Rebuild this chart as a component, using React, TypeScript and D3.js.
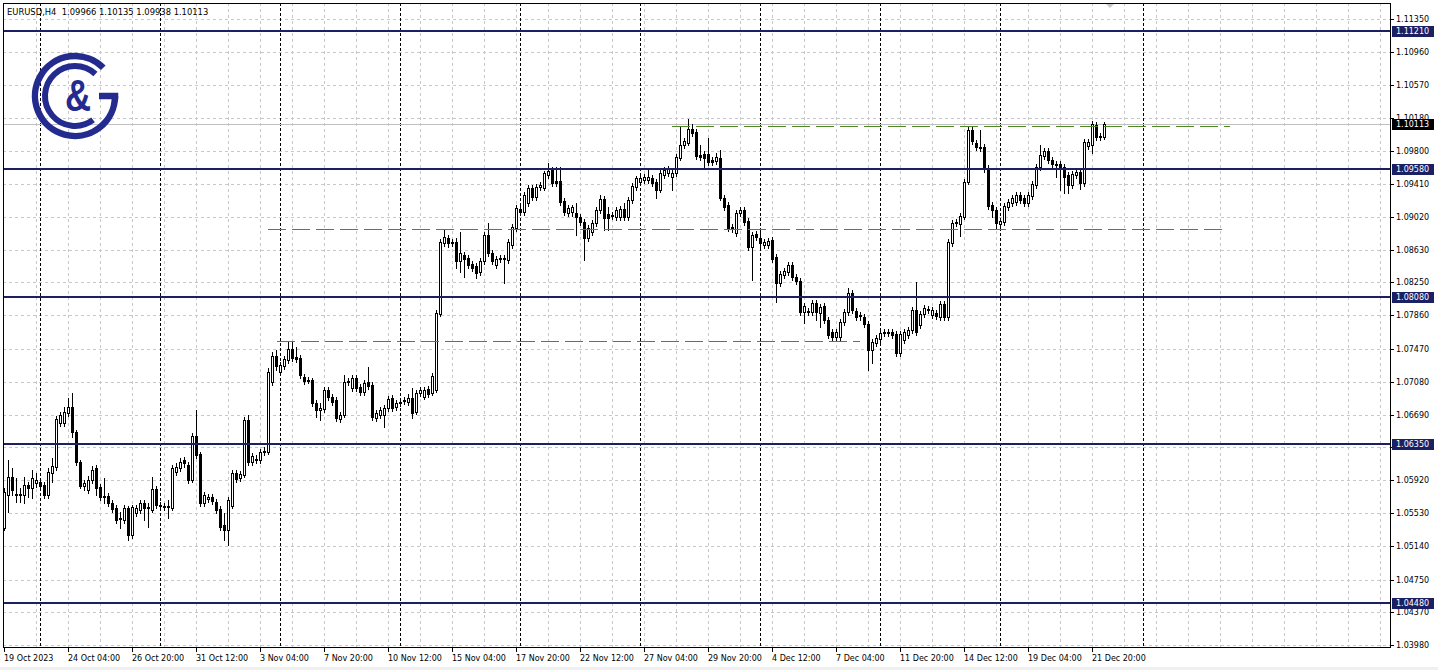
import React from "react";
import * as d3 from "d3";

const header = "EURUSD,H4  1.09966 1.10135 1.09938 1.10113";

const timeLabels = [
  "19 Oct 2023", "24 Oct 04:00", "26 Oct 20:00", "31 Oct 12:00", "3 Nov 04:00",
  "7 Nov 20:00", "10 Nov 12:00", "15 Nov 04:00", "17 Nov 20:00", "22 Nov 12:00",
  "27 Nov 04:00", "29 Nov 20:00", "4 Dec 12:00", "7 Dec 04:00", "11 Dec 20:00",
  "14 Dec 12:00", "19 Dec 04:00", "21 Dec 20:00",
];
const barsPerTimeLabel = 16;
const barsPerGridLine = 8;

const priceTicks = [
  1.1135, 1.1096, 1.1057, 1.1018, 1.098, 1.0941, 1.0902, 1.0863, 1.0825, 1.0786,
  1.0747, 1.0708, 1.0669, 1.0631, 1.0592, 1.0553, 1.0514, 1.0475, 1.0437, 1.0398,
];

// horizontal support / resistance levels
const levels = [1.1121, 1.0958, 1.0808, 1.0635, 1.0448];
// dashed trend lines: [from bar, to bar, price]
const trendLines: [number, number, number][] = [
  [167, 306.5, 1.1009],
  [66, 304.5, 1.08878],
  [68.25, 214, 1.07559],
];
// period separators (bar index)
const separators = [9, 39, 69, 99, 129, 159, 189, 219, 249, 284.75];
const bidPrice = 1.10113;

// H4 candles: [open, high, low, close]
const ohlc: [number, number, number, number][] = [
  [1.05358, 1.05829, 1.05334, 1.05781], [1.05746, 1.06158, 1.05545, 1.05958], [1.05958, 1.06064, 1.05746, 1.05805],
  [1.05758, 1.05946, 1.05663, 1.05746], [1.05746, 1.05829, 1.05663, 1.05758], [1.05746, 1.05958, 1.05652, 1.05864],
  [1.05864, 1.05899, 1.05723, 1.05829], [1.05829, 1.0604, 1.05711, 1.05946], [1.05888, 1.06005, 1.05841, 1.05923],
  [1.05899, 1.05946, 1.05805, 1.05852], [1.05864, 1.05899, 1.05711, 1.05746], [1.05746, 1.06064, 1.05711, 1.06016],
  [1.06005, 1.06182, 1.05899, 1.06087], [1.06076, 1.06676, 1.0604, 1.06641], [1.06594, 1.06723, 1.06558, 1.06688],
  [1.06594, 1.06782, 1.06558, 1.06723], [1.06712, 1.06888, 1.06676, 1.06782], [1.06782, 1.06947, 1.06429, 1.06487],
  [1.06487, 1.06511, 1.06099, 1.06134], [1.06134, 1.06158, 1.05829, 1.05852], [1.05852, 1.05923, 1.05805, 1.05888],
  [1.05805, 1.05969, 1.0577, 1.05923], [1.05923, 1.06087, 1.05888, 1.0604], [1.06064, 1.06099, 1.05746, 1.05829],
  [1.05841, 1.05876, 1.05687, 1.05723], [1.05723, 1.05946, 1.05652, 1.05734], [1.05734, 1.0577, 1.05616, 1.05652],
  [1.05652, 1.05687, 1.05545, 1.05581], [1.05593, 1.05628, 1.05417, 1.05452], [1.05463, 1.05545, 1.05358, 1.05475],
  [1.05452, 1.05628, 1.05417, 1.05593], [1.05593, 1.05616, 1.05216, 1.05275], [1.05275, 1.05628, 1.0524, 1.05605],
  [1.05534, 1.05628, 1.05498, 1.05593], [1.05569, 1.05687, 1.05534, 1.05652], [1.05652, 1.05687, 1.05452, 1.05593],
  [1.05593, 1.05652, 1.0537, 1.05605], [1.05569, 1.05958, 1.05545, 1.05817], [1.05817, 1.05852, 1.05593, 1.05628],
  [1.05616, 1.05663, 1.05569, 1.05628], [1.05605, 1.05652, 1.05569, 1.05616], [1.05616, 1.05687, 1.05475, 1.05605],
  [1.05593, 1.06099, 1.05569, 1.06064], [1.06016, 1.06123, 1.05981, 1.06076], [1.06064, 1.06182, 1.06028, 1.06134],
  [1.06158, 1.06194, 1.06076, 1.06123], [1.06099, 1.06134, 1.05888, 1.05923], [1.05923, 1.06476, 1.05899, 1.0644],
  [1.0644, 1.06747, 1.06182, 1.06217], [1.06229, 1.06252, 1.05616, 1.05652], [1.05652, 1.05781, 1.05616, 1.05746],
  [1.05699, 1.05758, 1.05663, 1.05723], [1.05723, 1.05758, 1.0564, 1.05675], [1.05663, 1.05699, 1.05534, 1.05569],
  [1.05581, 1.05616, 1.05334, 1.0537], [1.05393, 1.05534, 1.05216, 1.05334], [1.05334, 1.05723, 1.05157, 1.05687],
  [1.05616, 1.0604, 1.05593, 1.06005], [1.06005, 1.0604, 1.05899, 1.05934], [1.05946, 1.06028, 1.05911, 1.05993],
  [1.05981, 1.06665, 1.05958, 1.06629], [1.06629, 1.06688, 1.06099, 1.06134], [1.06134, 1.06241, 1.06099, 1.06205],
  [1.06158, 1.06217, 1.06123, 1.0617], [1.06158, 1.06288, 1.06123, 1.06252], [1.06252, 1.06312, 1.06217, 1.06264],
  [1.06252, 1.07241, 1.06229, 1.07194], [1.07076, 1.07429, 1.07041, 1.07382], [1.07382, 1.07453, 1.07218, 1.07264],
  [1.07194, 1.07311, 1.07159, 1.07276], [1.07264, 1.07382, 1.07229, 1.07347], [1.07335, 1.07547, 1.073, 1.07465],
  [1.07465, 1.07547, 1.07323, 1.07359], [1.07371, 1.07489, 1.07311, 1.07347], [1.07359, 1.07394, 1.07124, 1.07159],
  [1.07136, 1.07171, 1.07053, 1.07088], [1.071, 1.07136, 1.07065, 1.07088], [1.071, 1.07124, 1.06793, 1.06829],
  [1.06829, 1.06864, 1.06665, 1.06747], [1.06747, 1.06829, 1.06629, 1.0677], [1.06758, 1.07018, 1.06723, 1.06982],
  [1.06982, 1.07018, 1.06864, 1.069], [1.069, 1.06935, 1.06805, 1.0684], [1.06864, 1.069, 1.06617, 1.06653],
  [1.06641, 1.06723, 1.06605, 1.06688], [1.06688, 1.07159, 1.06665, 1.07076], [1.07076, 1.07124, 1.07041, 1.07088],
  [1.07006, 1.07159, 1.0697, 1.07124], [1.07124, 1.07159, 1.0697, 1.07006], [1.07018, 1.07053, 1.06923, 1.06958],
  [1.06958, 1.071, 1.06923, 1.07065], [1.07076, 1.07253, 1.06994, 1.07029], [1.07041, 1.07076, 1.06629, 1.06665],
  [1.06653, 1.06747, 1.06617, 1.06712], [1.06688, 1.06782, 1.06653, 1.06747], [1.06688, 1.06805, 1.06547, 1.0677],
  [1.0677, 1.06911, 1.06735, 1.06876], [1.06888, 1.06923, 1.06735, 1.0677], [1.06782, 1.06864, 1.06747, 1.06829],
  [1.06829, 1.06876, 1.06793, 1.0684], [1.06852, 1.069, 1.06817, 1.06864], [1.0684, 1.06935, 1.06805, 1.06888],
  [1.06888, 1.07006, 1.06653, 1.06712], [1.06723, 1.06982, 1.067, 1.06947], [1.06947, 1.07018, 1.06911, 1.06982],
  [1.069, 1.07018, 1.06876, 1.06982], [1.06994, 1.07029, 1.069, 1.06935], [1.06947, 1.07183, 1.06923, 1.07147],
  [1.06982, 1.07924, 1.06958, 1.07889], [1.07877, 1.0876, 1.07853, 1.08724], [1.08713, 1.08866, 1.08677, 1.08784],
  [1.08772, 1.08807, 1.08666, 1.08713], [1.08713, 1.0876, 1.08677, 1.08724], [1.08724, 1.08772, 1.08419, 1.08501],
  [1.08501, 1.08842, 1.08371, 1.08595], [1.08571, 1.08606, 1.08313, 1.08524], [1.08536, 1.08571, 1.08419, 1.08454],
  [1.08466, 1.08501, 1.08383, 1.08419], [1.08442, 1.08478, 1.08301, 1.0836], [1.08371, 1.08536, 1.08336, 1.08501],
  [1.08501, 1.08842, 1.08466, 1.08807], [1.08807, 1.08949, 1.08559, 1.08595], [1.08595, 1.0863, 1.08466, 1.08501],
  [1.08454, 1.08559, 1.08419, 1.08524], [1.08524, 1.08571, 1.08489, 1.08536], [1.08536, 1.08571, 1.08242, 1.08524],
  [1.08513, 1.0876, 1.08478, 1.08724], [1.08689, 1.08937, 1.08654, 1.08901], [1.0889, 1.0916, 1.08854, 1.09125],
  [1.09113, 1.09148, 1.09042, 1.09077], [1.09077, 1.09313, 1.09042, 1.09278], [1.09184, 1.09395, 1.09148, 1.0936],
  [1.0936, 1.09395, 1.09219, 1.09255], [1.09255, 1.09407, 1.09219, 1.09372], [1.09372, 1.0943, 1.09337, 1.09395],
  [1.0936, 1.0956, 1.09337, 1.09537], [1.09513, 1.09655, 1.09478, 1.0956], [1.09572, 1.09607, 1.09383, 1.09419],
  [1.09442, 1.09607, 1.09383, 1.09419], [1.09442, 1.09607, 1.0916, 1.09195], [1.09207, 1.09243, 1.09042, 1.09077],
  [1.09066, 1.0916, 1.0903, 1.09125], [1.09077, 1.0916, 1.0903, 1.09137], [1.09066, 1.09184, 1.08807, 1.09019],
  [1.09019, 1.09054, 1.08925, 1.0896], [1.0896, 1.08996, 1.08513, 1.08772], [1.08772, 1.08925, 1.08736, 1.0889],
  [1.08842, 1.08984, 1.08807, 1.08949], [1.08949, 1.09137, 1.08913, 1.09101], [1.09101, 1.09278, 1.09066, 1.09231],
  [1.09231, 1.09266, 1.08866, 1.09007], [1.09054, 1.09137, 1.08866, 1.09007], [1.09042, 1.09077, 1.08996, 1.0903],
  [1.09019, 1.09137, 1.08984, 1.09101], [1.09019, 1.09148, 1.08984, 1.09113], [1.09113, 1.09184, 1.08984, 1.09019],
  [1.09019, 1.09255, 1.08984, 1.09219], [1.09219, 1.09419, 1.09184, 1.09383], [1.09372, 1.09501, 1.09337, 1.09478],
  [1.0943, 1.09513, 1.09395, 1.09478], [1.09454, 1.09525, 1.09419, 1.09489], [1.09454, 1.09572, 1.09419, 1.09489],
  [1.09478, 1.09513, 1.09383, 1.09419], [1.0943, 1.09466, 1.09243, 1.09337], [1.09337, 1.09572, 1.09313, 1.09537],
  [1.09513, 1.09607, 1.09478, 1.09572], [1.09537, 1.09619, 1.09501, 1.09584], [1.09489, 1.09572, 1.09337, 1.09537],
  [1.09537, 1.09761, 1.09501, 1.09726], [1.09714, 1.10079, 1.0969, 1.09867], [1.09867, 1.09949, 1.09831, 1.09914],
  [1.0989, 1.10173, 1.09867, 1.10055], [1.10055, 1.10114, 1.09972, 1.10008], [1.10019, 1.10055, 1.09702, 1.09737],
  [1.09749, 1.09867, 1.0969, 1.09726], [1.09761, 1.09796, 1.09596, 1.09714], [1.09761, 1.09949, 1.09631, 1.09666],
  [1.0969, 1.09726, 1.09631, 1.09666], [1.09678, 1.09773, 1.09643, 1.09726], [1.09714, 1.09808, 1.09219, 1.09243],
  [1.09243, 1.09278, 1.09101, 1.09137], [1.0916, 1.09195, 1.08854, 1.0889], [1.08901, 1.08937, 1.08842, 1.08878],
  [1.08831, 1.09101, 1.08795, 1.09066], [1.09066, 1.09137, 1.0903, 1.09101], [1.09101, 1.09137, 1.08925, 1.0896],
  [1.08972, 1.09007, 1.0863, 1.08666], [1.08666, 1.08842, 1.08277, 1.08807], [1.08819, 1.08854, 1.08748, 1.08784],
  [1.08772, 1.08866, 1.08666, 1.08713], [1.08689, 1.0876, 1.08654, 1.08724], [1.08689, 1.08772, 1.08654, 1.08736],
  [1.08748, 1.08784, 1.08489, 1.08524], [1.08548, 1.08583, 1.08018, 1.08242], [1.08242, 1.08383, 1.08206, 1.08348],
  [1.08336, 1.08419, 1.08301, 1.08383], [1.08371, 1.08489, 1.08336, 1.08454], [1.08454, 1.08489, 1.08277, 1.08313],
  [1.08313, 1.08348, 1.0823, 1.08265], [1.08265, 1.08301, 1.07865, 1.079], [1.079, 1.08007, 1.07771, 1.07971],
  [1.07912, 1.07947, 1.07865, 1.079], [1.079, 1.08042, 1.07865, 1.08007], [1.08007, 1.08042, 1.07806, 1.079],
  [1.07889, 1.07995, 1.07724, 1.07959], [1.07971, 1.08007, 1.07771, 1.07806], [1.07806, 1.07842, 1.07595, 1.0763],
  [1.07665, 1.077, 1.07571, 1.07607], [1.07607, 1.077, 1.07571, 1.07665], [1.07607, 1.07818, 1.07571, 1.07783],
  [1.07783, 1.07936, 1.07747, 1.079], [1.079, 1.08183, 1.07865, 1.08124], [1.08124, 1.08159, 1.07889, 1.07924],
  [1.07912, 1.07947, 1.07806, 1.07842], [1.07853, 1.079, 1.07806, 1.07865], [1.07842, 1.07877, 1.07724, 1.07759],
  [1.07759, 1.07794, 1.07218, 1.07453], [1.07453, 1.07583, 1.073, 1.07547], [1.07536, 1.0763, 1.075, 1.07595],
  [1.07583, 1.07689, 1.07547, 1.07653], [1.07653, 1.077, 1.07618, 1.07665], [1.07665, 1.077, 1.07618, 1.07653],
  [1.07665, 1.077, 1.07595, 1.0763], [1.07642, 1.07677, 1.07382, 1.07418], [1.07418, 1.07677, 1.07382, 1.07642],
  [1.07571, 1.077, 1.07536, 1.07665], [1.0763, 1.07724, 1.07595, 1.07689], [1.07689, 1.07959, 1.07653, 1.07924],
  [1.07924, 1.08253, 1.0763, 1.07665], [1.07747, 1.07912, 1.07712, 1.07877], [1.07877, 1.07983, 1.07842, 1.07947],
  [1.07924, 1.07971, 1.07889, 1.07936], [1.07865, 1.07959, 1.0783, 1.07924], [1.07889, 1.07924, 1.07818, 1.07853],
  [1.07842, 1.0803, 1.07806, 1.07995], [1.07995, 1.0803, 1.07806, 1.07842], [1.07842, 1.0876, 1.07806, 1.08724],
  [1.08713, 1.08984, 1.08677, 1.08949], [1.08949, 1.08996, 1.08913, 1.0896], [1.08937, 1.09066, 1.08795, 1.0903],
  [1.09019, 1.09466, 1.08996, 1.0943], [1.0943, 1.10079, 1.09407, 1.10043], [1.10043, 1.10079, 1.09878, 1.09914],
  [1.0989, 1.09925, 1.09808, 1.09843], [1.09843, 1.10043, 1.09796, 1.09831], [1.09843, 1.09878, 1.09548, 1.09584],
  [1.09596, 1.09631, 1.09113, 1.09148], [1.0916, 1.09195, 1.09019, 1.09101], [1.09101, 1.09137, 1.0889, 1.08949],
  [1.08937, 1.09007, 1.0889, 1.08972], [1.0896, 1.09184, 1.08925, 1.09148], [1.09137, 1.09231, 1.09101, 1.09195],
  [1.09184, 1.09278, 1.09148, 1.09243], [1.09195, 1.09313, 1.0916, 1.09278], [1.09278, 1.09313, 1.09184, 1.09219],
  [1.09243, 1.09278, 1.09148, 1.09184], [1.09184, 1.09313, 1.09148, 1.09278], [1.09266, 1.09442, 1.09231, 1.09407],
  [1.09395, 1.09643, 1.0936, 1.09607], [1.09607, 1.09867, 1.09572, 1.09749], [1.09737, 1.09831, 1.09702, 1.09796],
  [1.09796, 1.09831, 1.09655, 1.0969], [1.0969, 1.09726, 1.09607, 1.09643], [1.09643, 1.09678, 1.09489, 1.09631],
  [1.09643, 1.09678, 1.09337, 1.09607], [1.09607, 1.09643, 1.09301, 1.09489], [1.09513, 1.09548, 1.09301, 1.09395],
  [1.09395, 1.0956, 1.0936, 1.09525], [1.09513, 1.09584, 1.09478, 1.09548], [1.09548, 1.09584, 1.09348, 1.09419],
  [1.09419, 1.09937, 1.09383, 1.09902], [1.09855, 1.09937, 1.0982, 1.09902], [1.09867, 1.10149, 1.09773, 1.10114],
  [1.10102, 1.10138, 1.09925, 1.09961], [1.09961, 1.10008, 1.09925, 1.09972], [1.09966, 1.10135, 1.09938, 1.10113],
];

const FONT = "'DejaVu Sans', sans-serif";
const NAVY = "#1b2063";
const LOGO = "#242b8e";
const GREEN = "#4d8a22";
const GRID = "#c8c8c8";

export default function App() {
  const W = 1438;
  const H = 670;
  const left = 3;
  const right = 1390;
  const top = 3;
  const bottom = 647;

  const x = d3.scaleLinear().domain([0, 346.5]).range([4, 1390]);
  const y = d3.scaleLinear().domain([1.0398, 1.1135]).range([645, 19]);
  const px = (i: number) => Math.round(x(i));
  const py = (p: number) => Math.round(y(p));
  const fmt = d3.format(".5f");

  const gridBars = d3.range(barsPerGridLine, 346.5, barsPerGridLine).filter((b) => x(b) < right - 2);

  // logo geometry
  const lcx = 75;
  const lcy = 96;
  const rO = 40;
  const rI = 30;
  const pt = (r: number, deg: number) => [lcx + r * Math.cos((deg * Math.PI) / 180), lcy + r * Math.sin((deg * Math.PI) / 180)];
  const [oSx, oSy] = pt(rO, -45);
  const [oEx, oEy] = pt(rO, 0);
  const [iSx, iSy] = pt(rI, -47);
  const [iEx, iEy] = pt(rI, 53);

  return (
    <div style={{ position: "absolute", left: 0, top: 0, width: W, height: H, background: "#fff" }}>
      <svg width={W} height={H} style={{ display: "block" }}>
        <rect x={0} y={0} width={W} height={H} fill="#fff" />
        <rect x={0} y={667} width={W} height={3} fill="#f0f0f0" />

        {/* grid */}
        <g shapeRendering="crispEdges">
          {priceTicks.map((p) => (
            <line key={"hg" + p} x1={left} x2={right} y1={py(p) + 0.5} y2={py(p) + 0.5} stroke={GRID} strokeDasharray="3,3" />
          ))}
          {gridBars.map((b) => (
            <line key={"vg" + b} x1={px(b) + 0.5} x2={px(b) + 0.5} y1={top} y2={bottom} stroke={GRID} strokeDasharray="3,3" />
          ))}
          {separators.map((b) => (
            <line key={"sep" + b} x1={px(b) + 0.5} x2={px(b) + 0.5} y1={top} y2={bottom} stroke="#000" strokeDasharray="3,2" />
          ))}
          <line x1={left} x2={right} y1={py(bidPrice) + 0.5} y2={py(bidPrice) + 0.5} stroke="#c0c0c0" />
        </g>

        {/* candles */}
        <g shapeRendering="crispEdges">
          {ohlc.map(([o, h, l, c], i) => {
            const cx = px(i);
            const yo = py(o);
            const yc = py(c);
            const yh = py(h);
            const yl = py(l);
            const t = Math.min(yo, yc);
            const b = Math.max(yo, yc);
            const bull = c >= o;
            return (
              <g key={i}>
                <line x1={cx + 0.5} x2={cx + 0.5} y1={yh} y2={yl + 1} stroke="#000" />
                {bull && b - t >= 2 ? (
                  <rect x={cx - 0.5} y={t + 0.5} width={2} height={b - t} fill="#fff" stroke="#000" />
                ) : (
                  <rect x={cx - 1} y={t} width={3} height={b - t + 1} fill="#000" />
                )}
              </g>
            );
          })}
        </g>

        {/* levels */}
        <g shapeRendering="crispEdges">
          {levels.map((p) => (
            <line key={"lv" + p} x1={left} x2={right} y1={py(p)} y2={py(p)} stroke={NAVY} strokeWidth={2} />
          ))}
          {trendLines.map(([a, b, p], k) => (
            <line key={"tl" + k} x1={px(a)} x2={px(b)} y1={py(p) + 0.5} y2={py(p) + 0.5} stroke={GREEN} strokeDasharray="18,6" />
          ))}
        </g>

        {/* logo */}
        <g>
          <path d={`M${oSx},${oSy} A${rO},${rO} 0 1 0 ${oEx},${oEy}`} fill="none" stroke={LOGO} strokeWidth={6.5} />
          <rect x={99} y={lcy - 3.25} width={lcx + rO + 3.25 - 99} height={6.5} fill={LOGO} />
          <path d={`M${iSx},${iSy} A${rI},${rI} 0 1 0 ${iEx},${iEy}`} fill="none" stroke={LOGO} strokeWidth={6} />
          <text
            transform={`translate(78,111) scale(0.82,1)`}
            textAnchor="middle"
            fontFamily="'Liberation Sans', Arial, sans-serif"
            fontWeight="bold"
            fontSize={44}
            fill={LOGO}
          >
            &amp;
          </text>
        </g>

        {/* header */}
        <text x={7} y={15} fontFamily={FONT} fontSize={8.4} fill="#000" style={{ whiteSpace: "pre" }}>
          {header}
        </text>

        {/* chart shift marker */}
        <path d="M1105,3 L1115,3 L1110,8 Z" fill="#c8c8c8" />

        {/* frame */}
        <g shapeRendering="crispEdges" stroke="#000" fill="none">
          <line x1={left + 0.5} x2={left + 0.5} y1={top} y2={bottom + 1} />
          <line x1={left} x2={right + 1} y1={top + 0.5} y2={top + 0.5} />
          <line x1={left} x2={right + 1} y1={bottom + 0.5} y2={bottom + 0.5} />
          <line x1={right + 0.5} x2={right + 0.5} y1={top} y2={bottom + 1} />
        </g>

        {/* price axis */}
        <g fontFamily={FONT} fontSize={8} shapeRendering="crispEdges">
          {priceTicks.map((p) => (
            <g key={"pt" + p}>
              <line x1={right + 1} x2={right + 4} y1={py(p) + 0.5} y2={py(p) + 0.5} stroke="#000" />
              <text x={right + 6} y={py(p) + 3} fill="#000">
                {fmt(p)}
              </text>
            </g>
          ))}
          {levels.map((p) => (
            <g key={"lb" + p}>
              <rect x={right + 2} y={py(p) - 5} width={42} height={11} fill={NAVY} />
              <text x={right + 6} y={py(p) + 3} fill="#fff">
                {fmt(p)}
              </text>
            </g>
          ))}
          <rect x={right + 2} y={py(bidPrice) - 5} width={42} height={11} fill="#000" />
          <text x={right + 6} y={py(bidPrice) + 3} fill="#fff">
            {fmt(bidPrice)}
          </text>
        </g>

        {/* time axis */}
        <g fontFamily={FONT} fontSize={8} shapeRendering="crispEdges">
          {timeLabels.map((t, k) => {
            const bx = px(k * barsPerTimeLabel);
            return (
              <g key={"tx" + k}>
                <line x1={bx + 0.5} x2={bx + 0.5} y1={bottom} y2={bottom + 5} stroke="#000" />
                <text x={bx} y={661} fill="#000">
                  {t}
                </text>
              </g>
            );
          })}
        </g>
      </svg>
    </div>
  );
}
